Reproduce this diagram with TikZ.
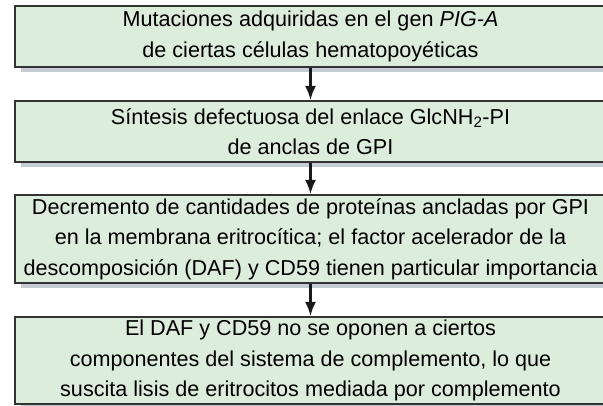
\documentclass[tikz,border=0pt]{standalone}
\usepackage{fontspec}
\setmainfont{Liberation Sans}
\usepackage{tikz}
\usetikzlibrary{arrows.meta,shadows}
\definecolor{pasoverde}{HTML}{DDEDDB}
\definecolor{sombra}{HTML}{C5CCD6}
\definecolor{borde}{HTML}{333333}

\begin{document}
\begin{tikzpicture}[x=1pt, y=1pt,
  font=\fontsize{21.6}{30.5}\selectfont,
  paso/.style={draw=borde, line width=2pt, fill=pasoverde, align=center, inner sep=0pt,
    minimum width=591pt, general shadow={draw=none, fill=sombra, shadow xshift=6pt, shadow yshift=-5pt}},
  flecha/.style={-{Latex[length=14pt,width=11pt]}, line width=2.2pt, draw=black!90}]
\clip (0,0) rectangle (603,406);
% ================= pasos =================
\node[paso, minimum height=61pt] (mut) at (310.5,369.5)
  {Mutaciones adquiridas en el gen \textit{PIG-A}\\de ciertas células hematopoyéticas};
\node[paso, minimum height=61pt] (sint) at (310.5,274.5)
  {Síntesis defectuosa del enlace GlcNH\textsubscript{2}-PI\\de anclas de GPI};
\node[paso, minimum height=88pt] (decr) at (310.5,167)
  {Decremento de cantidades de proteínas ancladas por GPI\\en la membrana eritrocítica; el factor acelerador de la\\descomposición (DAF) y CD59 tienen particular importancia};
\node[paso, minimum height=87pt] (lisis) at (310.5,45.5)
  {El DAF y CD59 no se oponen a ciertos\\componentes del sistema de complemento, lo que\\suscita lisis de eritrocitos mediada por complemento};
% ================= flechas =================
\draw[flecha] (mut) -- (sint);
\draw[flecha] (sint) -- (decr);
\draw[flecha] (decr) -- (lisis);
\end{tikzpicture}
\end{document}
